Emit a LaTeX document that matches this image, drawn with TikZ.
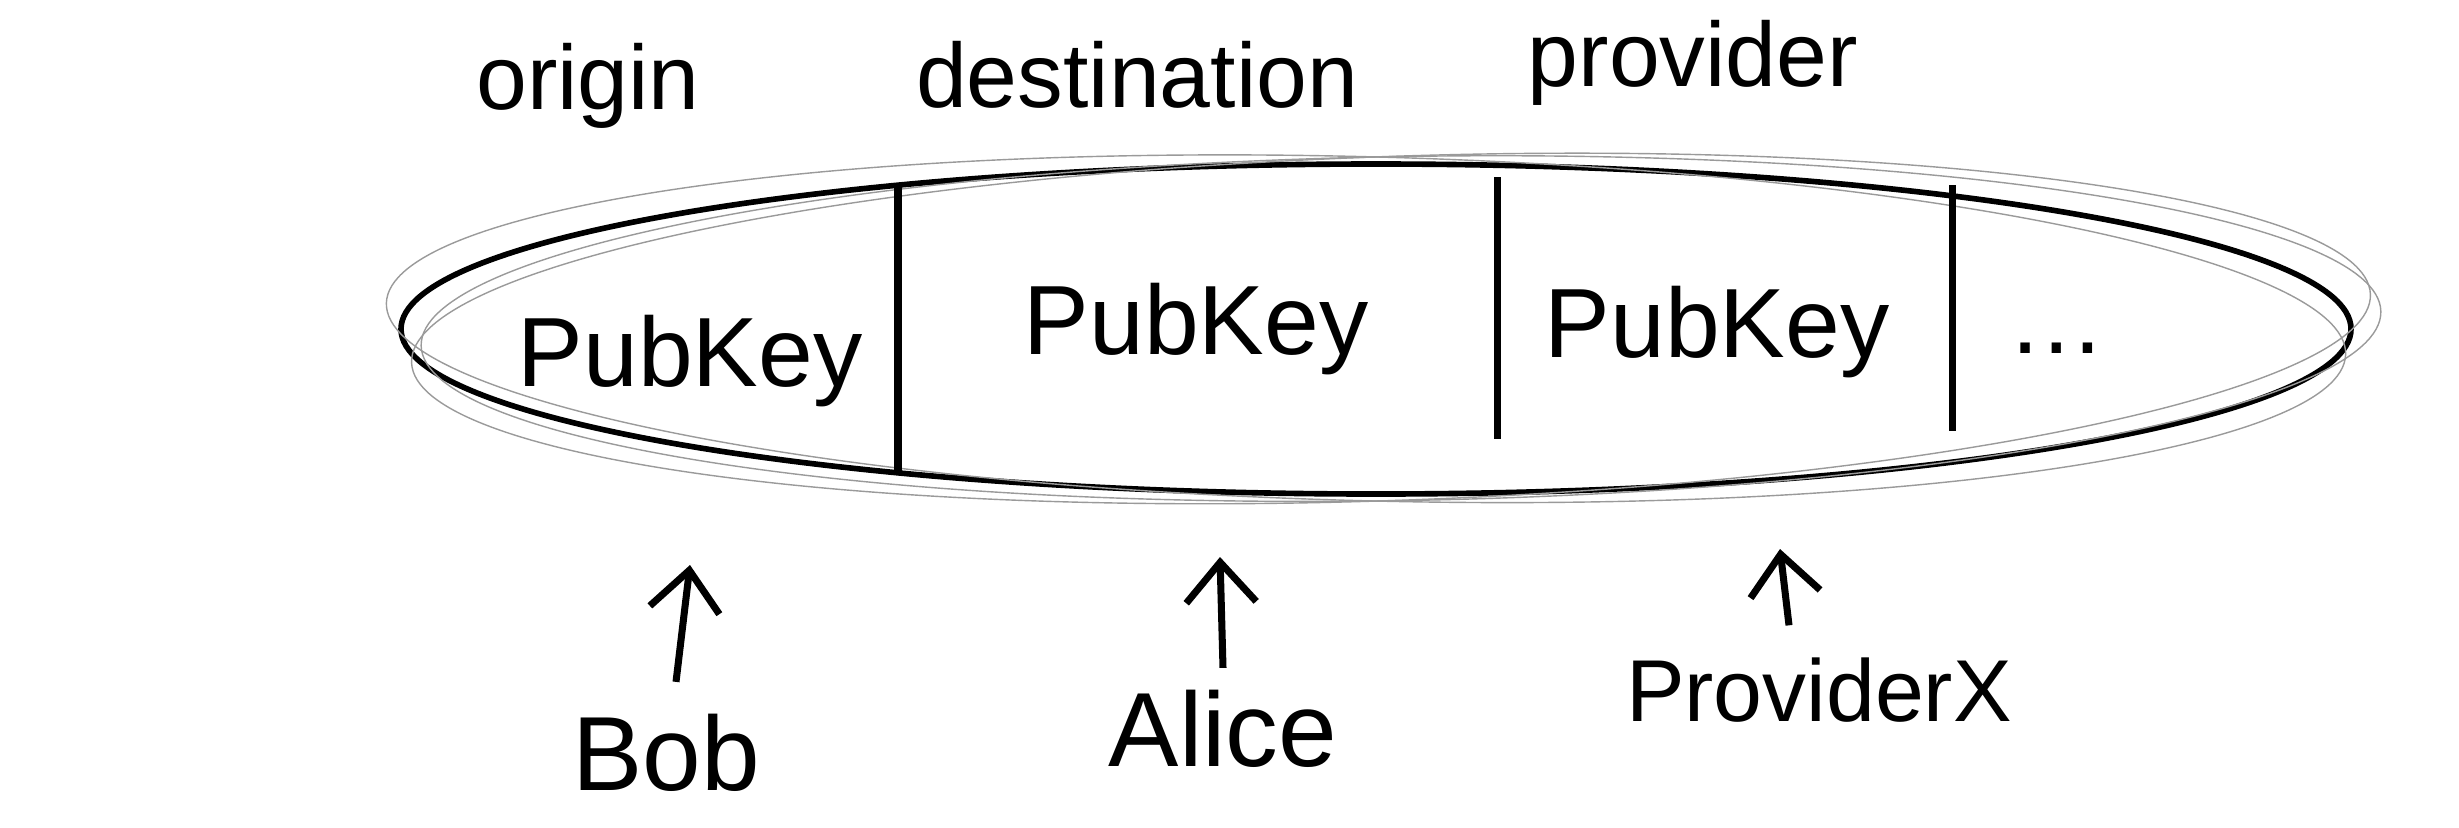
\documentclass[tikz,border=0pt]{standalone}
\usepackage{fontspec}
\setmainfont{Liberation Sans}
\usepackage{tikz}
\usetikzlibrary{arrows.meta, shapes.geometric}
\definecolor{pencilGray}{HTML}{9A9A9A}

\begin{document}
\begin{tikzpicture}[
    toplabel/.style={font=\fontsize{26}{30}\selectfont},
    keylabel/.style={font=\fontsize{28}{32}\selectfont},
    whoname/.style={font=\fontsize{30}{34}\selectfont},
    pointer/.style={line width=2pt, -{Straight Barb[length=4mm, width=7mm, line width=2pt]}}
]

    \useasboundingbox (0,0) rectangle (24.59,8.27);

    % the list of keys
    \node[ellipse, draw, line width=1.6pt, minimum width=19.5cm, minimum height=3.3cm,
          inner sep=0pt] (chain) at (13.76,4.98) {};
    \foreach \a/\dx in {2/0.15, -1.5/-0.1, 1/0.25}
        \draw[pencilGray, thin, rotate around={\a:(13.76,4.98)}]
            (13.76+\dx,4.98) ellipse (9.8cm and 1.72cm);

    \draw[line width=2pt] (8.98,6.42) -- (8.98,3.56);
    \draw[line width=2pt] (14.97,6.50) -- (14.97,3.88);
    \draw[line width=2pt] (19.52,6.42) -- (19.52,3.96);

    \node[keylabel] (key1) at (6.90,4.66) {PubKey};
    \node[keylabel] (key2) at (11.96,4.98) {PubKey};
    \node[keylabel] (key3) at (17.17,4.95) {PubKey};
    \node[keylabel] (more) at (20.57,4.79) {\dots};

    % what each slot is
    \node[toplabel] (origin) at (5.88,7.41) {origin};
    \node[toplabel] (dest) at (11.37,7.52) {destination};
    \node[toplabel] (prov) at (16.93,7.64) {provider};

    % who owns each key
    \node[whoname] (bob) at (6.66,0.74) {Bob};
    \node[whoname] (alice) at (12.23,0.98) {Alice};
    \node[whoname, font=\fontsize{25}{30}\selectfont] (providerx) at (18.19,1.37) {ProviderX};

    \coordinate (bobtip) at (6.90,2.62);
    \coordinate (alicetip) at (12.20,2.70);
    \coordinate (provtip) at (17.80,2.78);

    \draw[pointer] (bob.north) ++(0.1,0.2) -- (bobtip);
    \draw[pointer] (alice.north) ++(0,0.1) -- (alicetip);
    \draw[pointer] (providerx.north) ++(-0.3,0.2) -- (provtip);
\end{tikzpicture}
\end{document}
